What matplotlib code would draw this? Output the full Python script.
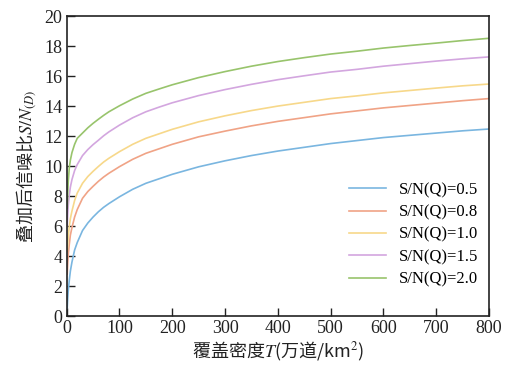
import matplotlib
matplotlib.use('Agg')
import matplotlib.pyplot as plt

plt.rcParams['font.family'] = ['Liberation Serif', 'Noto Sans CJK SC']
plt.rcParams['mathtext.fontset'] = 'stix'

# coverage density T (10^4 traces / km^2)
T = [1, 2, 3, 5, 7, 10, 15, 20, 30, 40, 50, 60, 70, 80, 100, 125, 150, 175,
     200, 250, 300, 350, 400, 450, 500, 550, 600, 650, 700, 750, 800]

snr_05 = [0.5, 1.2, 1.7, 2.4, 3.0, 3.6, 4.4, 4.9, 5.7, 6.2,
          6.6, 6.95, 7.25, 7.5, 7.95, 8.45, 8.85, 9.15, 9.45, 9.95,
          10.35, 10.7, 11.0, 11.25, 11.5, 11.7, 11.9, 12.05, 12.2, 12.35, 12.47]
snr_08 = [2.8, 3.5, 4.1, 4.8, 5.4, 5.9, 6.6, 7.1, 7.85, 8.3,
          8.65, 8.98, 9.27, 9.52, 9.96, 10.45, 10.85, 11.15, 11.45, 11.95,
          12.33, 12.68, 12.98, 13.23, 13.48, 13.68, 13.88, 14.04, 14.2, 14.36, 14.5]
snr_10 = [4.3, 4.8, 5.3, 6.0, 6.5, 7.0, 7.7, 8.2, 8.85, 9.3,
          9.65, 9.97, 10.27, 10.52, 10.96, 11.45, 11.85, 12.15, 12.45, 12.95,
          13.35, 13.7, 14.0, 14.25, 14.5, 14.68, 14.88, 15.04, 15.2, 15.35, 15.47]
snr_15 = [6.0, 6.8, 7.4, 8.1, 8.6, 9.1, 9.7, 10.1, 10.7, 11.1,
          11.43, 11.72, 12.02, 12.28, 12.73, 13.22, 13.62, 13.93, 14.22, 14.7,
          15.1, 15.45, 15.76, 16.02, 16.27, 16.45, 16.66, 16.83, 17.0, 17.15, 17.28]
snr_20 = [7.2, 8.2, 9.0, 9.9, 10.4, 10.9, 11.45, 11.85, 12.2, 12.55,
          12.85, 13.12, 13.38, 13.62, 14.02, 14.47, 14.85, 15.14, 15.42, 15.9,
          16.3, 16.66, 16.97, 17.23, 17.47, 17.66, 17.87, 18.04, 18.2, 18.37, 18.52]

series = [
    ('S/N(Q)=0.5', snr_05, '#7ab6e0'),
    ('S/N(Q)=0.8', snr_08, '#f0a386'),
    ('S/N(Q)=1.0', snr_10, '#f7d88a'),
    ('S/N(Q)=1.5', snr_15, '#d3a6df'),
    ('S/N(Q)=2.0', snr_20, '#98c46c'),
]

fig = plt.figure(figsize=(5.11, 3.66), dpi=100)
ax = fig.add_axes([0.1305, 0.1366, 0.8265, 0.8194])

for label, ys, color in series:
    ax.plot(T, ys, color=color, lw=1.2, label=label)

ax.set_xlim(0, 800)
ax.set_ylim(0, 20)
ax.set_xticks(range(0, 801, 100))
ax.set_yticks(range(0, 21, 2))
ax.tick_params(direction='in', length=5.5, width=1.0, labelsize=13,
               colors='#222222', pad=3)
for s in ax.spines.values():
    s.set_linewidth(1.2)
    s.set_color('#222222')

# non-math text in a mathtext string uses only the first family, so give the
# labels the CJK family; the math parts stay in stix
ax.set_xlabel('覆盖密度$T$(万道/km$^2$)', fontsize=13, labelpad=2,
              family='Noto Sans CJK SC', color='#222222')
ax.set_ylabel('叠加后信噪比$S/N_{(D)}$', fontsize=13, labelpad=4,
              family='Noto Sans CJK SC', color='#222222')

ax.legend(loc='lower right', bbox_to_anchor=(0.975, 0.095), frameon=False,
          fontsize=12, handlelength=2.2, handletextpad=0.8, labelspacing=0.38,
          borderpad=0, borderaxespad=0)

fig.savefig('out.png', dpi=100)
